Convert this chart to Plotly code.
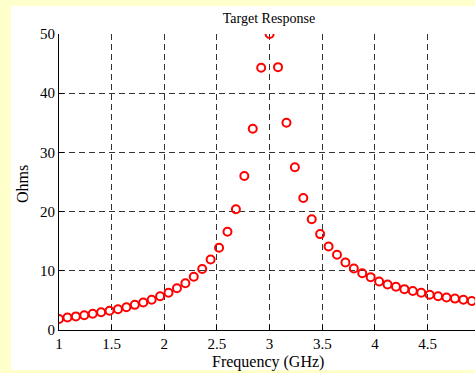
import plotly.graph_objects as go

# Data
freq_ghz = [1.00, 1.08, 1.16, 1.24, 1.32, 1.40, 1.48, 1.56, 1.64, 1.72,
            1.80, 1.88, 1.96, 2.04, 2.12, 2.20, 2.28, 2.36, 2.44, 2.52,
            2.60, 2.68, 2.76, 2.84, 2.92, 3.00, 3.08, 3.16, 3.24, 3.32,
            3.40, 3.48, 3.56, 3.64, 3.72, 3.80, 3.88, 3.96, 4.04, 4.12,
            4.20, 4.28, 4.36, 4.44, 4.52, 4.60, 4.68, 4.76, 4.84, 4.92, 5.00]
ohms = [1.85, 2.1, 2.3, 2.5, 2.75, 3.0, 3.25, 3.5, 3.85, 4.25,
        4.65, 5.1, 5.7, 6.3, 7.05, 7.9, 9.0, 10.3, 11.9, 13.9,
        16.6, 20.4, 26.0, 34.0, 44.3, 50.0, 44.4, 35.0, 27.5, 22.3,
        18.7, 16.2, 14.1, 12.7, 11.4, 10.4, 9.6, 8.9, 8.2, 7.7,
        7.3, 6.9, 6.6, 6.3, 5.95, 5.7, 5.5, 5.3, 5.1, 4.9, 4.75]

x_ticks = [1, 1.5, 2, 2.5, 3, 3.5, 4, 4.5]
x_tick_labels = ["1", "1.5", "2", "2.5", "3", "3.5", "4", "4.5"]
y_ticks = [0, 10, 20, 30, 40, 50]
y_tick_labels = ["0", "10", "20", "30", "40", "50"]

FONT = "Liberation Serif, Times New Roman, serif"
W, H = 475, 373
ML, MT, MB, MR = 59, 34, 43, 0
plot_w = W - ML - MR
plot_h = H - MT - MB

fig = go.Figure()
fig.add_trace(go.Scatter(
    x=freq_ghz, y=ohms, mode="markers",
    marker=dict(symbol="circle-open", size=8, color="#ff0000",
                line=dict(width=2, color="#ff0000")),
    cliponaxis=True, showlegend=False,
))

def px_x(p):
    return (p - ML) / plot_w

def px_y(p):
    return (H - MB - p) / plot_h

# white figure panel on light-yellow page
fig.add_shape(type="rect", xref="paper", yref="paper",
              x0=px_x(11), x1=px_x(476), y0=px_y(370), y1=px_y(6),
              fillcolor="white", line=dict(width=0), layer="below")

axis_common = dict(
    showgrid=True, gridcolor="#333333", gridwidth=1, griddash="6px,4px",
    zeroline=False, showline=True, linecolor="black", linewidth=1,
    ticks="inside", ticklen=5, tickcolor="black", tickwidth=1,
    tickfont=dict(family=FONT, size=15, color="black"),
    automargin=False,
)

fig.update_xaxes(range=[1, 1 + (W - ML) / 105.3], tickvals=x_ticks,
                 ticktext=x_tick_labels, **axis_common)
fig.update_yaxes(range=[0, 50], tickvals=y_ticks, ticktext=y_tick_labels,
                 **axis_common)

fig.add_annotation(text="Frequency (GHz)", xref="paper", yref="paper",
                   x=px_x(268), y=px_y(362), xanchor="center", yanchor="middle",
                   showarrow=False,
                   font=dict(family=FONT, size=16, color="black"))
fig.add_annotation(text="Ohms", xref="paper", yref="paper",
                   x=px_x(22), y=px_y(184), xanchor="center", yanchor="middle",
                   showarrow=False, textangle=-90,
                   font=dict(family=FONT, size=16, color="black"))

fig.update_layout(
    width=W, height=H,
    margin=dict(l=ML, r=MR, t=MT, b=MB, pad=0),
    paper_bgcolor="#ffffcc", plot_bgcolor="white",
    title=dict(text="Target Response", x=(269 - ML) / plot_w, xref="paper",
               xanchor="center", y=1 - 18 / H, yanchor="middle",
               font=dict(family=FONT, size=14, color="black")),
    font=dict(family=FONT, color="black"),
)

fig.write_html(
    "out.html",
    config={"displayModeBar": False},
    post_script="document.body.style.margin='0';document.body.style.overflow='hidden';",
)
